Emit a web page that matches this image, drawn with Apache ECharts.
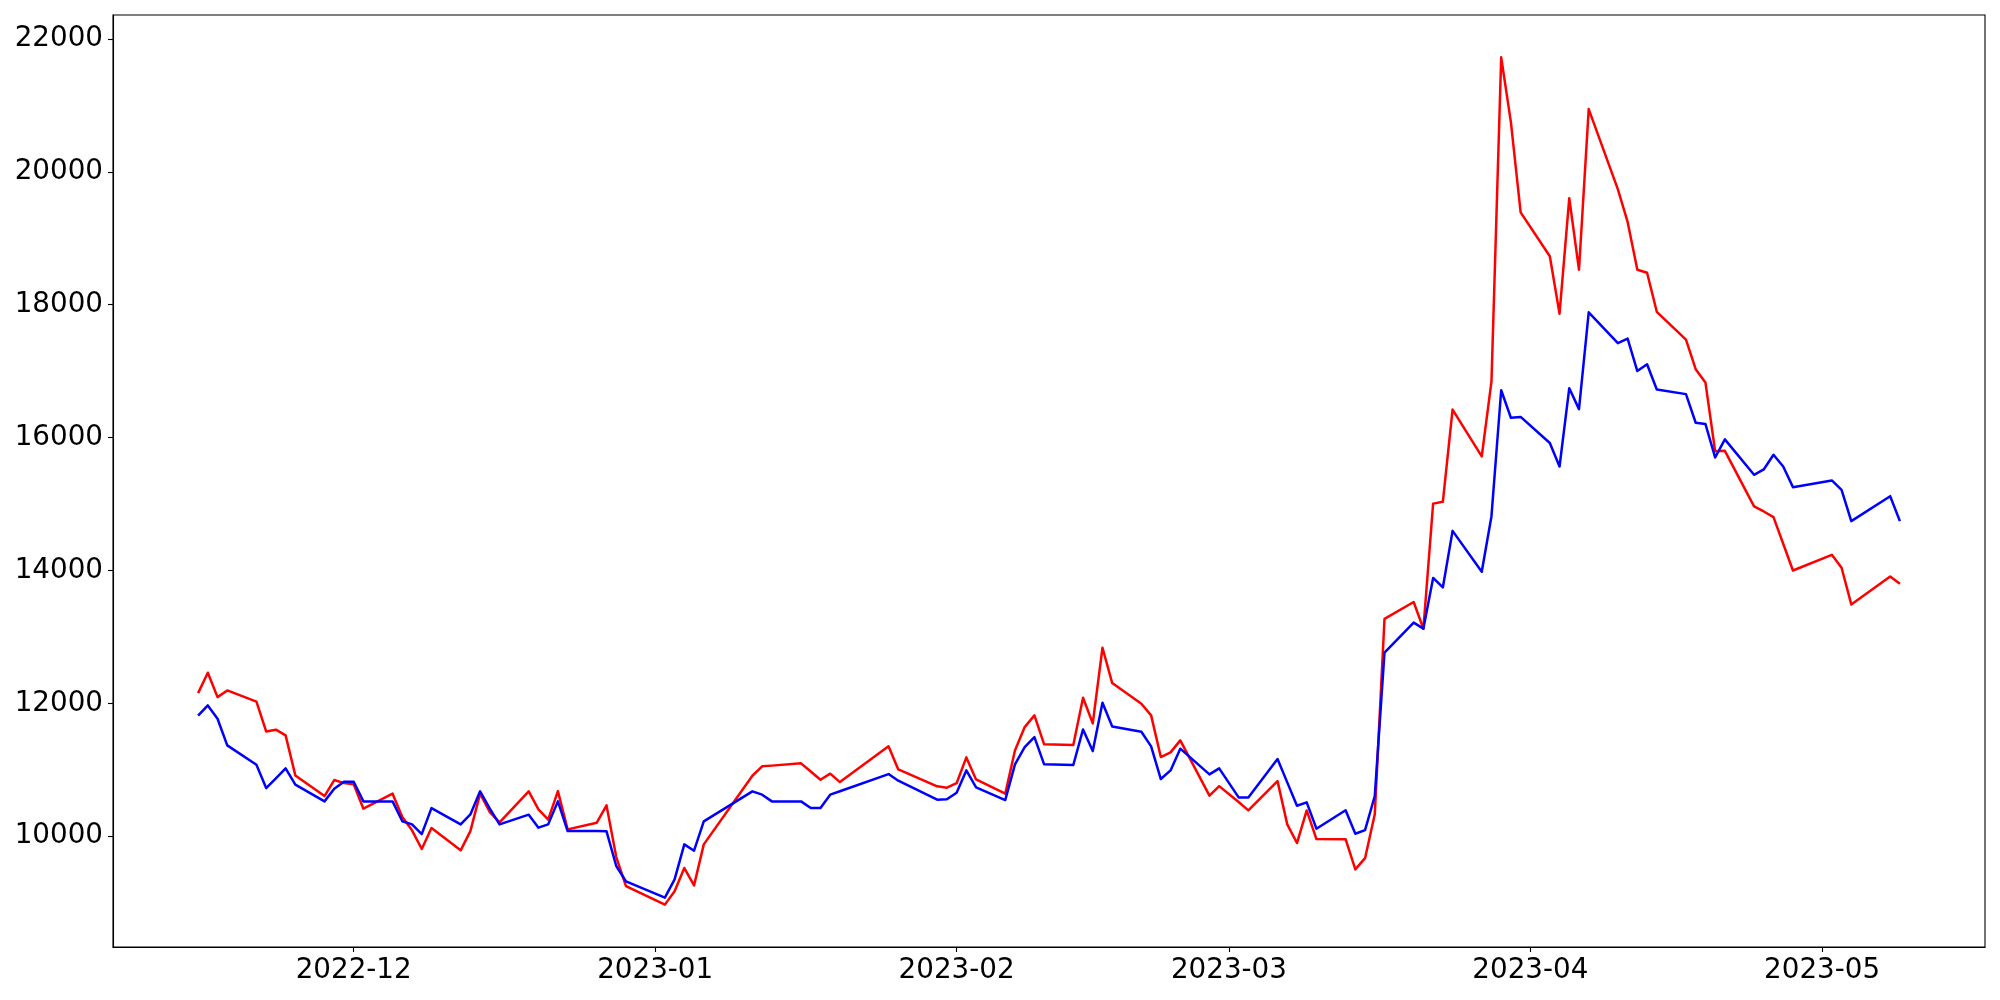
<!DOCTYPE html>
<html>
<head>
<meta charset="utf-8">
<script src="https://cdn.jsdelivr.net/npm/echarts@6/dist/echarts.min.js"></script>
<style>
html,body{margin:0;padding:0;background:#fff;}
#chart{width:2000px;height:1000px;}
</style>
</head>
<body>
<div id="chart"></div>
<script>
const dates = [
"2022-11-15","2022-11-16","2022-11-17","2022-11-18","2022-11-21","2022-11-22","2022-11-23","2022-11-24","2022-11-25",
"2022-11-28","2022-11-29","2022-11-30","2022-12-01","2022-12-02","2022-12-05","2022-12-06","2022-12-07","2022-12-08",
"2022-12-09","2022-12-12","2022-12-13","2022-12-14","2022-12-15","2022-12-16","2022-12-19","2022-12-20","2022-12-21",
"2022-12-22","2022-12-23","2022-12-26","2022-12-27","2022-12-28","2022-12-29","2023-01-02","2023-01-03","2023-01-04",
"2023-01-05","2023-01-06","2023-01-11","2023-01-12","2023-01-13","2023-01-16","2023-01-17","2023-01-18","2023-01-19",
"2023-01-20","2023-01-25","2023-01-26","2023-01-30","2023-01-31","2023-02-01","2023-02-02","2023-02-03","2023-02-06",
"2023-02-07","2023-02-08","2023-02-09","2023-02-10","2023-02-13","2023-02-14","2023-02-15","2023-02-16","2023-02-17",
"2023-02-20","2023-02-21","2023-02-22","2023-02-23","2023-02-24","2023-02-27","2023-02-28","2023-03-02","2023-03-03",
"2023-03-06","2023-03-07","2023-03-08","2023-03-09","2023-03-10","2023-03-13","2023-03-14","2023-03-15","2023-03-16",
"2023-03-17","2023-03-20","2023-03-21","2023-03-22","2023-03-23","2023-03-24","2023-03-27","2023-03-28","2023-03-29",
"2023-03-30","2023-03-31","2023-04-03","2023-04-04","2023-04-05","2023-04-06","2023-04-07","2023-04-10","2023-04-11",
"2023-04-12","2023-04-13","2023-04-14","2023-04-17","2023-04-18","2023-04-19","2023-04-20","2023-04-21","2023-04-24",
"2023-04-25","2023-04-26","2023-04-27","2023-04-28","2023-05-02","2023-05-03","2023-05-04","2023-05-08","2023-05-09"
];
const redValues = [
12154,12461,12094,12195,12025,11578,11604,11518,10916,
10605,10846,10800,10781,10415,10641,10290,10089,9808,
10124,9788,10078,10641,10364,10209,10676,10405,10250,
10680,10104,10204,10465,9687,9251,8971,9171,9522,
9261,9878,10911,11052,11063,11097,10974,10851,10942,
10815,11353,11006,10751,10731,10798,11187,10856,10641,
11292,11643,11819,11383,11372,12085,11699,12837,12305,
11995,11819,11192,11262,11443,10611,10755,10515,10389,
10830,10179,9898,10389,9958,9956,9501,9670,10330,
13272,13525,13122,15006,15034,16421,15718,16846,21722,
20743,19390,18728,17864,19603,18526,20944,19736,19245,
18526,18481,17893,17473,17029,16830,15794,15800,14964,
14888,14803,14402,14000,14236,14041,13489,13910,13800
];
const blueValues = [
11814,11969,11769,11368,11077,10725,10871,11022,10776,
10525,10716,10821,10821,10525,10525,10225,10179,10033,
10424,10179,10329,10676,10415,10179,10325,10129,10179,
10525,10078,10078,10074,9552,9321,9076,9352,9878,
9783,10224,10676,10626,10525,10525,10424,10424,10626,
10677,10936,10836,10551,10556,10656,10991,10736,10545,
11082,11342,11493,11082,11072,11608,11282,12010,11653,
11573,11352,10861,10991,11318,10931,11022,10585,10585,
11162,10811,10460,10510,10114,10391,10038,10093,10606,
12765,13215,13125,13888,13745,14596,13980,14817,16712,
16297,16311,15918,15565,16743,16428,17885,17420,17489,
17001,17104,16723,16654,16223,16205,15700,15973,15440,
15520,15741,15565,15254,15355,15214,14742,15118,14742
];
const yTicks = [10000,12000,14000,16000,18000,20000,22000];
const xTicks = ["2022-12-01","2023-01-01","2023-02-01","2023-03-01","2023-04-01","2023-05-01"];

function ts(s){const p=s.split('-').map(Number);return Date.UTC(p[0],p[1]-1,p[2]);}
const t0 = ts(dates[0]), t1 = ts(dates[dates.length-1]);
const xPad = (t1-t0)*0.05;
const vmin = Math.min(...redValues, ...blueValues), vmax = Math.max(...redValues, ...blueValues);
const yPad = (vmax-vmin)*0.05;

const font = 'DejaVu Sans';
const fs = 27.78;
const chart = echarts.init(document.getElementById('chart'), null, {renderer:'canvas'});
chart.setOption({
  animation: false,
  backgroundColor: '#fff',
  grid: {left:113, top:15, width:1872, height:932, show:true, borderColor:'#000', borderWidth:1.1, backgroundColor:'transparent'},
  xAxis: {
    type:'value', min: t0 - xPad, max: t1 + xPad, scale:true,
    axisLine:{show:true, onZero:false, lineStyle:{color:'#000', width:1.1}},
    axisTick:{show:true, inside:false, length:5, lineStyle:{color:'#000', width:1.1}, customValues: xTicks.map(ts)},
    axisLabel:{show:true, margin:10, color:'#000', fontFamily:font, fontSize:fs, customValues: xTicks.map(ts),
      formatter: function(v){const d=new Date(v);const m=d.getUTCMonth()+1;return d.getUTCFullYear()+'-'+(m<10?'0':'')+m;}},
    splitLine:{show:false}
  },
  yAxis: {
    type:'value', min: vmin - yPad, max: vmax + yPad, scale:true,
    axisLine:{show:true, onZero:false, lineStyle:{color:'#000', width:1.1}},
    axisTick:{show:true, inside:false, length:5, lineStyle:{color:'#000', width:1.1}, customValues: yTicks},
    axisLabel:{show:true, margin:10, color:'#000', fontFamily:font, fontSize:fs, customValues: yTicks,
      formatter: function(v){return String(Math.round(v));}},
    splitLine:{show:false}
  },
  series: [
    {type:'line', data: dates.map((d,i)=>[ts(d), redValues[i]]), showSymbol:false, symbol:'none',
     lineStyle:{color:'#ff0000', width:2.5, join:'round'}, itemStyle:{color:'#ff0000'}, z:2},
    {type:'line', data: dates.map((d,i)=>[ts(d), blueValues[i]]), showSymbol:false, symbol:'none',
     lineStyle:{color:'#0000ff', width:2.5, join:'round'}, itemStyle:{color:'#0000ff'}, z:3}
  ]
});
</script>
</body>
</html>
